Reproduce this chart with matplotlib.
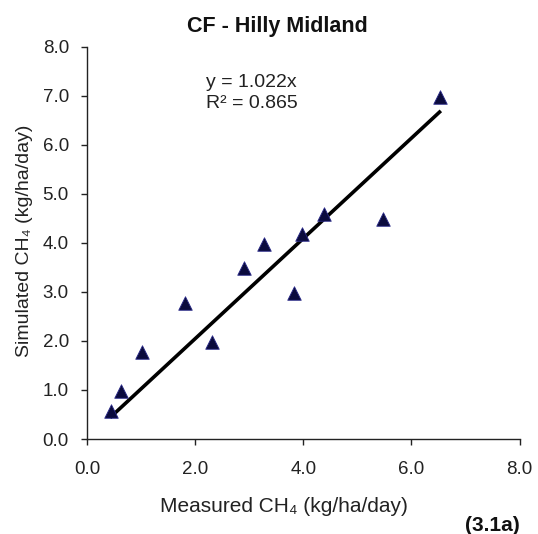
import matplotlib
matplotlib.use("Agg")
import matplotlib.pyplot as plt
import numpy as np

# measured vs simulated CH4 (kg/ha/day)
measured = [0.45, 0.62, 1.02, 1.82, 2.32, 2.90, 3.28, 3.82, 3.98, 4.38, 5.48, 6.52]
simulated = [0.58, 0.98, 1.78, 2.78, 1.98, 3.48, 3.98, 2.98, 4.18, 4.58, 4.48, 6.98]
slope = 1.022
r2 = 0.865
ticks = [0.0, 2.0, 4.0, 6.0, 8.0]
yticks = [0.0, 1.0, 2.0, 3.0, 4.0, 5.0, 6.0, 7.0, 8.0]

plt.rcParams['font.family'] = ['Liberation Sans', 'DejaVu Sans']
ink = "#222222"

fig = plt.figure(figsize=(5.38, 5.34), dpi=100)
ax = fig.add_axes([0.1617, 0.1779, 0.804, 0.735])

ax.scatter(measured, simulated, marker="^", s=95, color="#0b0b3d",
           edgecolors="#2a2a8a", linewidths=0.6, zorder=3)
xs = np.array([min(measured), max(measured)])
ax.plot(xs, slope * xs, color="black", lw=2.6, zorder=2)

ax.set_xlim(0, 8)
ax.set_ylim(0, 8)
ax.set_xticks(ticks)
ax.set_yticks(yticks)
ax.set_xticklabels([f"{t:.1f}" for t in ticks])
ax.set_yticklabels([f"{t:.1f}" for t in yticks])
ax.tick_params(axis="x", direction="out", length=4, width=1, labelsize=13.5,
               colors=ink, pad=12)
ax.tick_params(axis="y", direction="out", length=4.5, width=1, labelsize=13.5,
               colors=ink, pad=8.5)
ax.spines["top"].set_visible(False)
ax.spines["right"].set_visible(False)
for s in ("left", "bottom"):
    ax.spines[s].set_color(ink)
    ax.spines[s].set_linewidth(1)

ax.set_xlabel("Measured CH₄ (kg/ha/day)", fontsize=15, color=ink)
ax.xaxis.set_label_coords(0.456, -0.148)
ax.set_ylabel("Simulated CH₄ (kg/ha/day)", fontsize=14, color=ink)
ax.yaxis.set_label_coords(-0.125, 0.505)

ax.text(0.276, 0.93, f"y = {slope:.3f}x\nR² = {r2:.3f}", transform=ax.transAxes,
        fontsize=14, color=ink, va="top", ha="left", linespacing=1.3)

fig.text(0.515, 0.95, "CF - Hilly Midland", fontsize=15.5, fontweight="bold",
         ha="center", va="center", color="#111111")
fig.text(0.9665, 0.016, "(3.1a)", fontsize=15, fontweight="bold",
         ha="right", va="center", color="#111111")

fig.savefig("out.png", dpi=100)
